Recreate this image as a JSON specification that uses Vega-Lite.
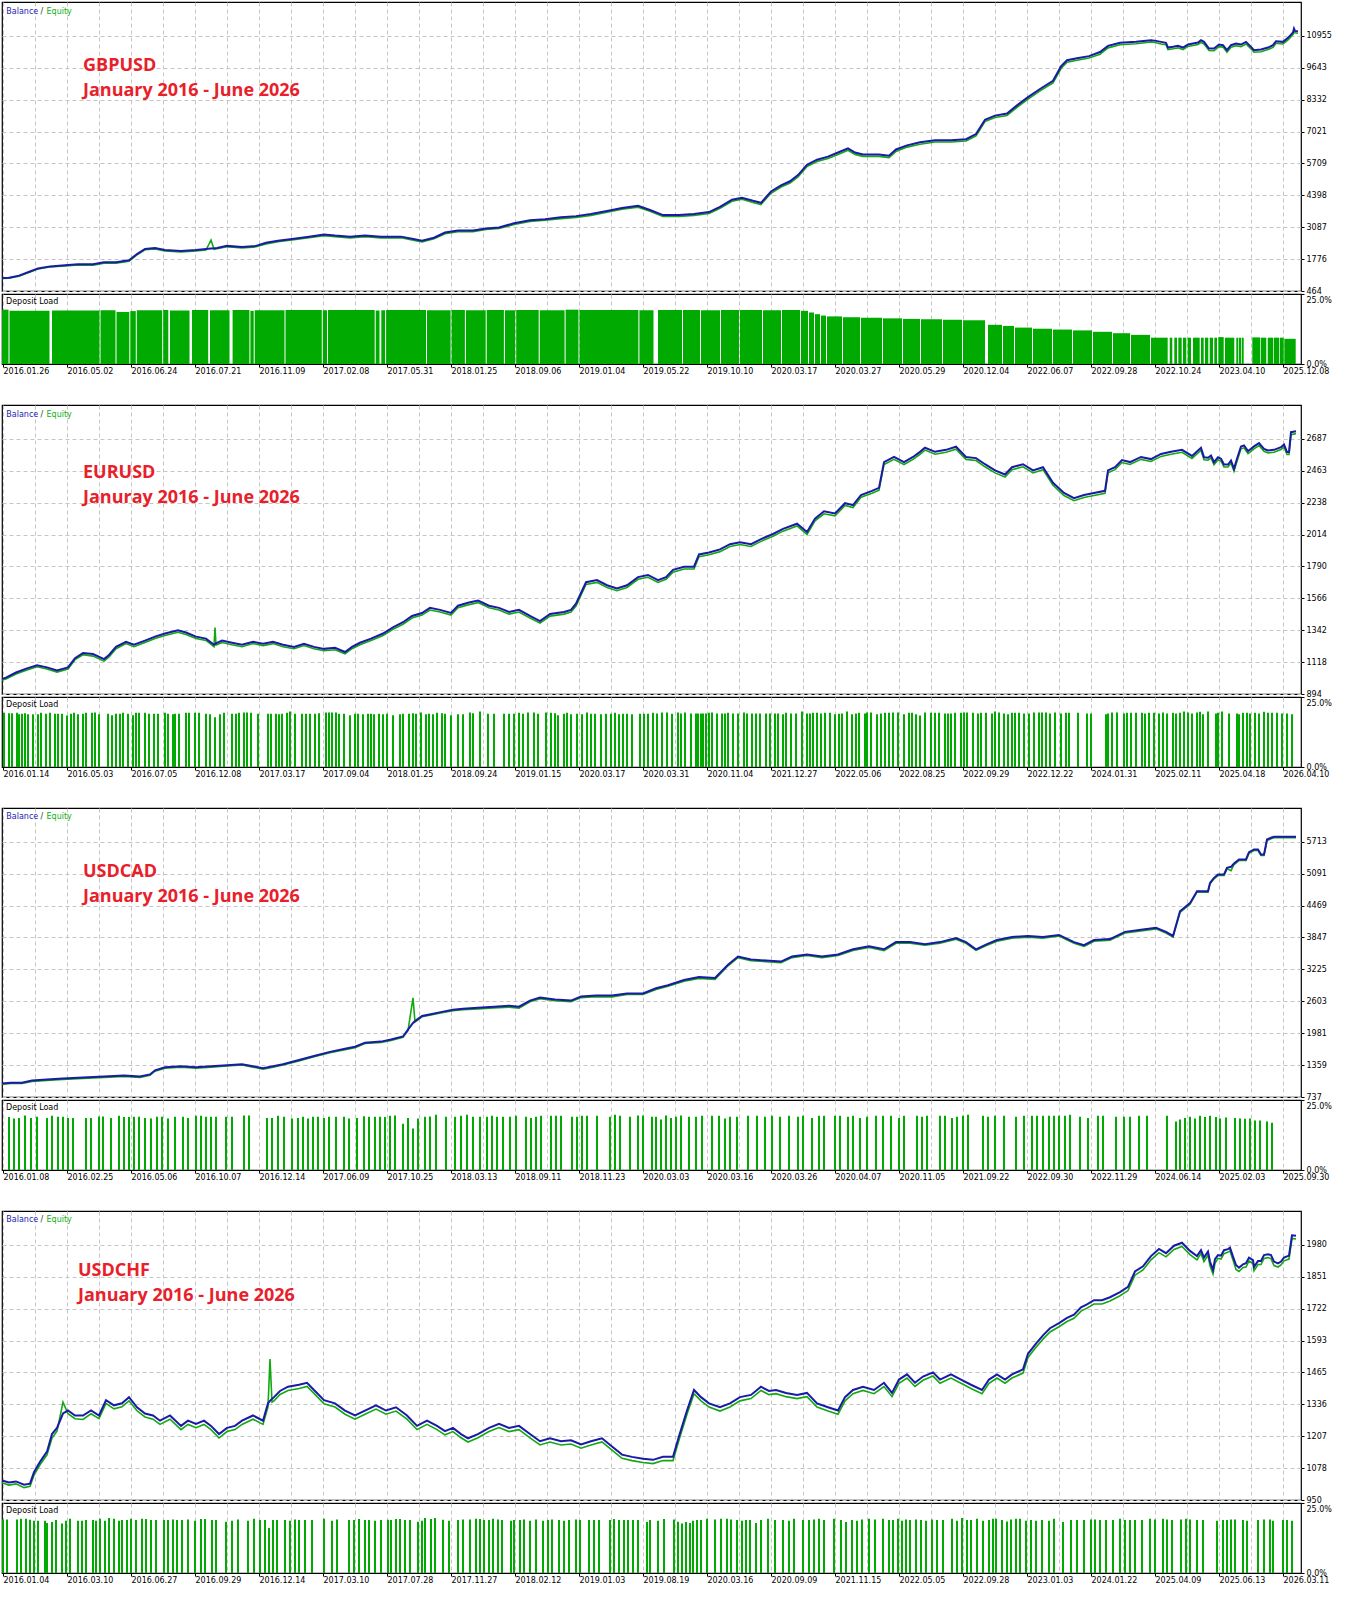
{
  "$schema": "https://vega.github.io/schema/vega-lite/v6.json",
  "padding": {"left": -3, "top": 1, "right": 4, "bottom": 4},
  "background": "#ffffff",
  "spacing": 28,
  "config": {
    "view": {"stroke": "#000000", "strokeWidth": 1.2},
    "axis": {"labelFont": "DejaVu Sans", "labelFontSize": 8, "labelColor": "#000000", "gridColor": "#c6c6c6", "gridDash": [4, 3], "gridWidth": 1, "tickColor": "#000000", "tickSize": 3, "domain": false}
  },
  "datasets": {
    "notes": [
      {"p": 1, "k": "leg", "t": "Balance", "x": 4.3, "y": 11872},
      {"p": 1, "k": "leg", "t": "/", "x": 38.5, "y": 11872},
      {"p": 1, "k": "leg", "t": "Equity", "x": 44.5, "y": 11872},
      {"p": 1, "k": "title", "t": "GBPUSD", "x": 81, "y": 9521},
      {"p": 1, "k": "title", "t": "January 2016 - June 2026", "x": 81, "y": 8493},
      {"p": 1, "k": "dep", "t": "Deposit Load", "x": 4, "y": 21.4},
      {"p": 2, "k": "leg", "t": "Balance", "x": 4.3, "y": 2843},
      {"p": 2, "k": "leg", "t": "/", "x": 38.5, "y": 2843},
      {"p": 2, "k": "leg", "t": "Equity", "x": 44.5, "y": 2843},
      {"p": 2, "k": "title", "t": "EURUSD", "x": 81, "y": 2411},
      {"p": 2, "k": "title", "t": "Januray 2016 - June 2026", "x": 81, "y": 2236},
      {"p": 2, "k": "dep", "t": "Deposit Load", "x": 4, "y": 21.4},
      {"p": 3, "k": "leg", "t": "Balance", "x": 4.3, "y": 6148},
      {"p": 3, "k": "leg", "t": "/", "x": 38.5, "y": 6148},
      {"p": 3, "k": "leg", "t": "Equity", "x": 44.5, "y": 6148},
      {"p": 3, "k": "title", "t": "USDCAD", "x": 81, "y": 5019},
      {"p": 3, "k": "title", "t": "January 2016 - June 2026", "x": 81, "y": 4531},
      {"p": 3, "k": "dep", "t": "Deposit Load", "x": 4, "y": 21.4},
      {"p": 4, "k": "leg", "t": "Balance", "x": 4.3, "y": 2070},
      {"p": 4, "k": "leg", "t": "/", "x": 38.5, "y": 2070},
      {"p": 4, "k": "leg", "t": "Equity", "x": 44.5, "y": 2070},
      {"p": 4, "k": "title", "t": "USDCHF", "x": 76, "y": 1852},
      {"p": 4, "k": "title", "t": "January 2016 - June 2026", "x": 76, "y": 1752},
      {"p": 4, "k": "dep", "t": "Deposit Load", "x": 4, "y": 21.4}
    ],
    "p1": [
      {"u":0,"b":1000,"e":985},{"u":7,"b":1012,"e":990},{"u":17,"b":1096,"e":1070},{"u":28,"b":1265,"e":1240},{"u":36,"b":1392,"e":1370},{"u":48,"b":1476,"e":1450},{"u":63,"b":1518,"e":1490},{"u":76,"b":1560,"e":1530},{"u":91,"b":1560,"e":1520},{"u":102,"b":1645,"e":1610},{"u":114,"b":1645,"e":1610},{"u":127,"b":1729,"e":1690},{"u":135,"b":1982,"e":1950},{"u":143,"b":2193,"e":2160},{"u":153,"b":2235,"e":2190},{"u":163,"b":2151,"e":2110},{"u":179,"b":2108,"e":2070},{"u":194,"b":2151,"e":2110},{"u":204,"b":2193,"e":2150},{"u":209,"b":2210,"e":2560},{"u":212,"b":2220,"e":2180},{"u":215,"b":2235,"e":2200},{"u":225,"b":2319,"e":2280},{"u":240,"b":2277,"e":2230},{"u":254,"b":2319,"e":2280},{"u":264,"b":2446,"e":2400},{"u":276,"b":2530,"e":2490},{"u":292,"b":2614,"e":2570},{"u":307,"b":2699,"e":2650},{"u":322,"b":2783,"e":2740},{"u":333,"b":2741,"e":2700},{"u":348,"b":2699,"e":2650},{"u":363,"b":2741,"e":2700},{"u":379,"b":2699,"e":2650},{"u":399,"b":2699,"e":2650},{"u":410,"b":2614,"e":2560},{"u":420,"b":2530,"e":2480},{"u":432,"b":2656,"e":2610},{"u":443,"b":2867,"e":2820},{"u":456,"b":2952,"e":2900},{"u":471,"b":2952,"e":2900},{"u":484,"b":3036,"e":2990},{"u":497,"b":3078,"e":3030},{"u":512,"b":3247,"e":3200},{"u":528,"b":3373,"e":3320},{"u":543,"b":3415,"e":3370},{"u":559,"b":3500,"e":3440},{"u":574,"b":3542,"e":3490},{"u":589,"b":3626,"e":3570},{"u":605,"b":3753,"e":3700},{"u":620,"b":3880,"e":3830},{"u":636,"b":3964,"e":3910},{"u":648,"b":3795,"e":3740},{"u":661,"b":3584,"e":3530},{"u":677,"b":3584,"e":3530},{"u":692,"b":3626,"e":3570},{"u":707,"b":3710,"e":3650},{"u":718,"b":3921,"e":3860},{"u":730,"b":4216,"e":4150},{"u":740,"b":4301,"e":4240},{"u":751,"b":4174,"e":4100},{"u":759,"b":4090,"e":4020},{"u":769,"b":4554,"e":4480},{"u":779,"b":4807,"e":4740},{"u":788,"b":4975,"e":4900},{"u":796,"b":5228,"e":5150},{"u":805,"b":5650,"e":5580},{"u":815,"b":5861,"e":5790},{"u":826,"b":5987,"e":5910},{"u":836,"b":6156,"e":6080},{"u":846,"b":6325,"e":6250},{"u":853,"b":6156,"e":6080},{"u":861,"b":6072,"e":6000},{"u":877,"b":6072,"e":6000},{"u":887,"b":6029,"e":5950},{"u":894,"b":6282,"e":6200},{"u":905,"b":6451,"e":6380},{"u":918,"b":6578,"e":6500},{"u":933,"b":6662,"e":6590},{"u":949,"b":6662,"e":6590},{"u":964,"b":6704,"e":6630},{"u":974,"b":6915,"e":6840},{"u":983,"b":7505,"e":7430},{"u":993,"b":7674,"e":7600},{"u":1005,"b":7758,"e":7680},{"u":1015,"b":8095,"e":8010},{"u":1026,"b":8432,"e":8350},{"u":1038,"b":8769,"e":8690},{"u":1051,"b":9107,"e":9020},{"u":1059,"b":9697,"e":9610},{"u":1065,"b":9950,"e":9870},{"u":1075,"b":10034,"e":9950},{"u":1087,"b":10119,"e":10040},{"u":1098,"b":10287,"e":10200},{"u":1106,"b":10540,"e":10460},{"u":1118,"b":10667,"e":10590},{"u":1134,"b":10709,"e":10630},{"u":1149,"b":10775,"e":10700},{"u":1154,"b":10747,"e":10670},{"u":1159,"b":10706,"e":10620},{"u":1164,"b":10665,"e":10590},{"u":1166,"b":10473,"e":10390},{"u":1171,"b":10501,"e":10420},{"u":1176,"b":10542,"e":10460},{"u":1181,"b":10473,"e":10390},{"u":1186,"b":10596,"e":10520},{"u":1191,"b":10637,"e":10560},{"u":1196,"b":10678,"e":10600},{"u":1199,"b":10775,"e":10690},{"u":1202,"b":10706,"e":10620},{"u":1207,"b":10432,"e":10350},{"u":1212,"b":10432,"e":10340},{"u":1217,"b":10596,"e":10510},{"u":1221,"b":10569,"e":10490},{"u":1225,"b":10364,"e":10280},{"u":1229,"b":10569,"e":10480},{"u":1234,"b":10637,"e":10550},{"u":1239,"b":10596,"e":10510},{"u":1244,"b":10706,"e":10620},{"u":1249,"b":10501,"e":10420},{"u":1252,"b":10364,"e":10280},{"u":1259,"b":10391,"e":10300},{"u":1266,"b":10473,"e":10390},{"u":1271,"b":10569,"e":10480},{"u":1274,"b":10733,"e":10650},{"u":1281,"b":10706,"e":10620},{"u":1286,"b":10870,"e":10790},{"u":1291,"b":11089,"e":11000},{"u":1292,"b":11253,"e":11170},{"u":1293,"b":11158,"e":11080},{"u":1296,"b":11144,"e":11060}
    ],
    "p2": [
      {"u":0,"b":1000,"e":992},{"u":4,"b":1009,"e":1000},{"u":14,"b":1045,"e":1035},{"u":25,"b":1074,"e":1062},{"u":35,"b":1096,"e":1085},{"u":45,"b":1081,"e":1070},{"u":55,"b":1060,"e":1048},{"u":66,"b":1081,"e":1070},{"u":73,"b":1146,"e":1135},{"u":81,"b":1182,"e":1170},{"u":91,"b":1175,"e":1160},{"u":102,"b":1139,"e":1125},{"u":107,"b":1168,"e":1155},{"u":114,"b":1225,"e":1212},{"u":124,"b":1261,"e":1248},{"u":132,"b":1240,"e":1226},{"u":143,"b":1269,"e":1256},{"u":153,"b":1297,"e":1284},{"u":163,"b":1319,"e":1305},{"u":176,"b":1341,"e":1328},{"u":184,"b":1326,"e":1312},{"u":194,"b":1297,"e":1284},{"u":204,"b":1283,"e":1270},{"u":212,"b":1240,"e":1226},{"u":213,"b":1245,"e":1360},{"u":214,"b":1250,"e":1238},{"u":220,"b":1269,"e":1256},{"u":230,"b":1254,"e":1240},{"u":240,"b":1240,"e":1226},{"u":251,"b":1261,"e":1248},{"u":261,"b":1247,"e":1234},{"u":271,"b":1261,"e":1248},{"u":281,"b":1240,"e":1226},{"u":292,"b":1225,"e":1212},{"u":302,"b":1247,"e":1234},{"u":312,"b":1225,"e":1212},{"u":322,"b":1211,"e":1198},{"u":333,"b":1218,"e":1205},{"u":343,"b":1189,"e":1176},{"u":350,"b":1225,"e":1212},{"u":358,"b":1254,"e":1240},{"u":369,"b":1283,"e":1270},{"u":381,"b":1319,"e":1305},{"u":391,"b":1362,"e":1348},{"u":401,"b":1398,"e":1384},{"u":410,"b":1442,"e":1428},{"u":420,"b":1463,"e":1448},{"u":428,"b":1499,"e":1484},{"u":438,"b":1485,"e":1470},{"u":449,"b":1463,"e":1448},{"u":456,"b":1514,"e":1500},{"u":466,"b":1535,"e":1520},{"u":476,"b":1550,"e":1536},{"u":487,"b":1514,"e":1500},{"u":497,"b":1499,"e":1484},{"u":507,"b":1470,"e":1455},{"u":517,"b":1485,"e":1470},{"u":528,"b":1442,"e":1428},{"u":538,"b":1406,"e":1392},{"u":548,"b":1456,"e":1441},{"u":562,"b":1470,"e":1455},{"u":569,"b":1485,"e":1470},{"u":574,"b":1528,"e":1512},{"u":584,"b":1679,"e":1664},{"u":595,"b":1694,"e":1678},{"u":605,"b":1658,"e":1642},{"u":615,"b":1636,"e":1620},{"u":625,"b":1658,"e":1642},{"u":636,"b":1715,"e":1700},{"u":646,"b":1730,"e":1714},{"u":656,"b":1694,"e":1678},{"u":664,"b":1715,"e":1700},{"u":671,"b":1766,"e":1750},{"u":682,"b":1788,"e":1772},{"u":692,"b":1788,"e":1772},{"u":697,"b":1874,"e":1858},{"u":707,"b":1888,"e":1872},{"u":718,"b":1910,"e":1894},{"u":728,"b":1946,"e":1930},{"u":738,"b":1960,"e":1944},{"u":749,"b":1946,"e":1930},{"u":759,"b":1982,"e":1966},{"u":771,"b":2018,"e":2002},{"u":781,"b":2054,"e":2038},{"u":795,"b":2090,"e":2074},{"u":805,"b":2032,"e":2015},{"u":813,"b":2126,"e":2110},{"u":822,"b":2177,"e":2160},{"u":833,"b":2162,"e":2145},{"u":843,"b":2234,"e":2218},{"u":851,"b":2220,"e":2204},{"u":859,"b":2292,"e":2276},{"u":870,"b":2321,"e":2304},{"u":877,"b":2342,"e":2326},{"u":882,"b":2523,"e":2506},{"u":892,"b":2559,"e":2542},{"u":902,"b":2523,"e":2506},{"u":911,"b":2559,"e":2542},{"u":918,"b":2595,"e":2578},{"u":923,"b":2624,"e":2607},{"u":933,"b":2595,"e":2578},{"u":944,"b":2609,"e":2592},{"u":954,"b":2631,"e":2614},{"u":964,"b":2559,"e":2542},{"u":974,"b":2551,"e":2534},{"u":983,"b":2508,"e":2490},{"u":993,"b":2465,"e":2447},{"u":1003,"b":2436,"e":2418},{"u":1010,"b":2487,"e":2470},{"u":1021,"b":2508,"e":2490},{"u":1031,"b":2465,"e":2447},{"u":1041,"b":2487,"e":2470},{"u":1051,"b":2378,"e":2360},{"u":1062,"b":2306,"e":2288},{"u":1072,"b":2270,"e":2252},{"u":1082,"b":2292,"e":2274},{"u":1092,"b":2306,"e":2288},{"u":1103,"b":2321,"e":2304},{"u":1106,"b":2465,"e":2448},{"u":1113,"b":2487,"e":2470},{"u":1120,"b":2537,"e":2520},{"u":1128,"b":2523,"e":2506},{"u":1139,"b":2559,"e":2542},{"u":1149,"b":2544,"e":2527},{"u":1159,"b":2580,"e":2563},{"u":1169,"b":2595,"e":2578},{"u":1180,"b":2609,"e":2592},{"u":1190,"b":2566,"e":2549},{"u":1199,"b":2623,"e":2606},{"u":1202,"b":2557,"e":2540},{"u":1206,"b":2553,"e":2536},{"u":1209,"b":2569,"e":2552},{"u":1212,"b":2522,"e":2505},{"u":1216,"b":2557,"e":2540},{"u":1219,"b":2546,"e":2529},{"u":1222,"b":2506,"e":2489},{"u":1226,"b":2506,"e":2489},{"u":1229,"b":2534,"e":2517},{"u":1232,"b":2476,"e":2459},{"u":1235,"b":2546,"e":2529},{"u":1239,"b":2633,"e":2616},{"u":1242,"b":2640,"e":2623},{"u":1246,"b":2600,"e":2583},{"u":1249,"b":2616,"e":2599},{"u":1252,"b":2633,"e":2616},{"u":1257,"b":2656,"e":2639},{"u":1262,"b":2616,"e":2599},{"u":1266,"b":2605,"e":2588},{"u":1272,"b":2609,"e":2592},{"u":1279,"b":2628,"e":2611},{"u":1282,"b":2647,"e":2630},{"u":1285,"b":2593,"e":2576},{"u":1287,"b":2593,"e":2576},{"u":1289,"b":2733,"e":2716},{"u":1294,"b":2740,"e":2723}
    ],
    "p3": [
      {"u":0,"b":1000,"e":985},{"u":9,"b":1017,"e":1000},{"u":20,"b":1017,"e":1000},{"u":30,"b":1057,"e":1040},{"u":45,"b":1077,"e":1060},{"u":61,"b":1097,"e":1080},{"u":81,"b":1117,"e":1100},{"u":102,"b":1137,"e":1120},{"u":122,"b":1157,"e":1140},{"u":138,"b":1137,"e":1120},{"u":148,"b":1177,"e":1160},{"u":153,"b":1257,"e":1240},{"u":163,"b":1317,"e":1300},{"u":179,"b":1337,"e":1320},{"u":194,"b":1317,"e":1300},{"u":209,"b":1337,"e":1320},{"u":225,"b":1357,"e":1340},{"u":240,"b":1377,"e":1360},{"u":251,"b":1337,"e":1320},{"u":261,"b":1297,"e":1280},{"u":271,"b":1337,"e":1320},{"u":281,"b":1377,"e":1360},{"u":297,"b":1457,"e":1440},{"u":312,"b":1537,"e":1520},{"u":328,"b":1617,"e":1600},{"u":343,"b":1677,"e":1660},{"u":353,"b":1717,"e":1700},{"u":363,"b":1797,"e":1780},{"u":379,"b":1817,"e":1800},{"u":389,"b":1857,"e":1840},{"u":401,"b":1917,"e":1900},{"u":406,"b":2050,"e":2030},{"u":411,"b":2180,"e":2670},{"u":413,"b":2217,"e":2200},{"u":420,"b":2317,"e":2300},{"u":430,"b":2357,"e":2340},{"u":440,"b":2397,"e":2380},{"u":451,"b":2437,"e":2420},{"u":461,"b":2457,"e":2440},{"u":476,"b":2477,"e":2455},{"u":492,"b":2497,"e":2475},{"u":507,"b":2517,"e":2490},{"u":517,"b":2497,"e":2470},{"u":528,"b":2617,"e":2595},{"u":538,"b":2677,"e":2655},{"u":553,"b":2637,"e":2615},{"u":569,"b":2617,"e":2595},{"u":579,"b":2697,"e":2675},{"u":594,"b":2717,"e":2695},{"u":610,"b":2717,"e":2690},{"u":625,"b":2757,"e":2735},{"u":641,"b":2757,"e":2735},{"u":654,"b":2857,"e":2835},{"u":666,"b":2917,"e":2895},{"u":682,"b":3017,"e":2995},{"u":697,"b":3077,"e":3050},{"u":713,"b":3057,"e":3030},{"u":726,"b":3317,"e":3295},{"u":736,"b":3477,"e":3455},{"u":749,"b":3417,"e":3395},{"u":764,"b":3397,"e":3375},{"u":779,"b":3377,"e":3355},{"u":790,"b":3477,"e":3455},{"u":805,"b":3517,"e":3495},{"u":820,"b":3477,"e":3455},{"u":836,"b":3517,"e":3495},{"u":851,"b":3617,"e":3595},{"u":867,"b":3677,"e":3655},{"u":882,"b":3617,"e":3590},{"u":894,"b":3757,"e":3735},{"u":908,"b":3757,"e":3735},{"u":923,"b":3717,"e":3695},{"u":938,"b":3757,"e":3735},{"u":954,"b":3837,"e":3815},{"u":964,"b":3757,"e":3735},{"u":974,"b":3617,"e":3595},{"u":985,"b":3717,"e":3695},{"u":995,"b":3797,"e":3775},{"u":1010,"b":3857,"e":3835},{"u":1026,"b":3877,"e":3855},{"u":1041,"b":3857,"e":3835},{"u":1057,"b":3897,"e":3875},{"u":1072,"b":3757,"e":3735},{"u":1082,"b":3697,"e":3675},{"u":1092,"b":3797,"e":3775},{"u":1108,"b":3817,"e":3795},{"u":1123,"b":3957,"e":3935},{"u":1139,"b":3997,"e":3975},{"u":1154,"b":4037,"e":4015},{"u":1164,"b":3957,"e":3935},{"u":1171,"b":3877,"e":3855},{"u":1178,"b":4357,"e":4335},{"u":1188,"b":4517,"e":4495},{"u":1195,"b":4749,"e":4730},{"u":1206,"b":4749,"e":4730},{"u":1208,"b":4913,"e":4890},{"u":1212,"b":5010,"e":4990},{"u":1216,"b":5075,"e":5055},{"u":1222,"b":5075,"e":5055},{"u":1225,"b":5205,"e":5185},{"u":1229,"b":5225,"e":5150},{"u":1232,"b":5290,"e":5270},{"u":1237,"b":5368,"e":5348},{"u":1244,"b":5368,"e":5348},{"u":1247,"b":5510,"e":5490},{"u":1252,"b":5563,"e":5543},{"u":1256,"b":5563,"e":5543},{"u":1259,"b":5465,"e":5445},{"u":1262,"b":5465,"e":5445},{"u":1265,"b":5758,"e":5738},{"u":1269,"b":5791,"e":5771},{"u":1272,"b":5811,"e":5791},{"u":1294,"b":5811,"e":5791}
    ],
    "p4": [
      {"u":0,"b":1029,"e":1020},{"u":7,"b":1021,"e":1010},{"u":14,"b":1025,"e":1015},{"u":22,"b":1012,"e":1000},{"u":28,"b":1016,"e":1005},{"u":32,"b":1062,"e":1050},{"u":38,"b":1104,"e":1092},{"u":45,"b":1145,"e":1132},{"u":50,"b":1216,"e":1200},{"u":55,"b":1241,"e":1228},{"u":61,"b":1299,"e":1345},{"u":66,"b":1311,"e":1298},{"u":73,"b":1291,"e":1278},{"u":81,"b":1291,"e":1275},{"u":89,"b":1311,"e":1298},{"u":97,"b":1291,"e":1278},{"u":104,"b":1353,"e":1340},{"u":112,"b":1332,"e":1318},{"u":120,"b":1340,"e":1326},{"u":127,"b":1365,"e":1350},{"u":135,"b":1324,"e":1310},{"u":143,"b":1299,"e":1285},{"u":151,"b":1291,"e":1276},{"u":158,"b":1270,"e":1255},{"u":168,"b":1291,"e":1276},{"u":179,"b":1249,"e":1234},{"u":186,"b":1270,"e":1255},{"u":194,"b":1257,"e":1242},{"u":202,"b":1270,"e":1255},{"u":209,"b":1249,"e":1234},{"u":217,"b":1216,"e":1200},{"u":225,"b":1241,"e":1226},{"u":233,"b":1249,"e":1234},{"u":240,"b":1270,"e":1255},{"u":251,"b":1291,"e":1276},{"u":261,"b":1270,"e":1255},{"u":266,"b":1340,"e":1326},{"u":268,"b":1350,"e":1519},{"u":270,"b":1358,"e":1345},{"u":272,"b":1365,"e":1350},{"u":278,"b":1390,"e":1376},{"u":286,"b":1407,"e":1392},{"u":297,"b":1415,"e":1400},{"u":305,"b":1423,"e":1408},{"u":312,"b":1394,"e":1380},{"u":322,"b":1353,"e":1338},{"u":333,"b":1340,"e":1325},{"u":343,"b":1311,"e":1296},{"u":353,"b":1291,"e":1276},{"u":363,"b":1311,"e":1296},{"u":374,"b":1332,"e":1317},{"u":384,"b":1311,"e":1296},{"u":394,"b":1324,"e":1309},{"u":405,"b":1291,"e":1276},{"u":415,"b":1249,"e":1234},{"u":425,"b":1270,"e":1255},{"u":435,"b":1249,"e":1234},{"u":443,"b":1228,"e":1213},{"u":451,"b":1241,"e":1226},{"u":459,"b":1216,"e":1201},{"u":466,"b":1199,"e":1184},{"u":476,"b":1216,"e":1201},{"u":487,"b":1241,"e":1226},{"u":497,"b":1257,"e":1242},{"u":507,"b":1241,"e":1226},{"u":517,"b":1249,"e":1234},{"u":528,"b":1216,"e":1201},{"u":538,"b":1187,"e":1172},{"u":548,"b":1199,"e":1184},{"u":559,"b":1187,"e":1172},{"u":569,"b":1191,"e":1176},{"u":579,"b":1174,"e":1159},{"u":589,"b":1187,"e":1172},{"u":600,"b":1199,"e":1184},{"u":610,"b":1166,"e":1151},{"u":620,"b":1133,"e":1118},{"u":630,"b":1124,"e":1109},{"u":641,"b":1116,"e":1101},{"u":651,"b":1112,"e":1097},{"u":661,"b":1124,"e":1109},{"u":671,"b":1124,"e":1109},{"u":677,"b":1207,"e":1192},{"u":685,"b":1311,"e":1296},{"u":692,"b":1394,"e":1379},{"u":699,"b":1365,"e":1350},{"u":707,"b":1340,"e":1325},{"u":718,"b":1324,"e":1309},{"u":728,"b":1340,"e":1325},{"u":738,"b":1365,"e":1350},{"u":749,"b":1374,"e":1359},{"u":759,"b":1407,"e":1392},{"u":767,"b":1390,"e":1375},{"u":774,"b":1394,"e":1379},{"u":784,"b":1382,"e":1367},{"u":795,"b":1374,"e":1359},{"u":805,"b":1382,"e":1367},{"u":815,"b":1340,"e":1325},{"u":826,"b":1324,"e":1309},{"u":836,"b":1311,"e":1296},{"u":843,"b":1365,"e":1350},{"u":851,"b":1394,"e":1379},{"u":861,"b":1407,"e":1392},{"u":872,"b":1394,"e":1379},{"u":882,"b":1423,"e":1408},{"u":890,"b":1382,"e":1367},{"u":897,"b":1436,"e":1421},{"u":905,"b":1457,"e":1442},{"u":913,"b":1423,"e":1408},{"u":921,"b":1448,"e":1433},{"u":931,"b":1465,"e":1450},{"u":938,"b":1436,"e":1421},{"u":949,"b":1457,"e":1442},{"u":959,"b":1436,"e":1421},{"u":969,"b":1415,"e":1400},{"u":980,"b":1394,"e":1379},{"u":987,"b":1436,"e":1421},{"u":995,"b":1457,"e":1442},{"u":1003,"b":1436,"e":1421},{"u":1010,"b":1457,"e":1442},{"u":1021,"b":1477,"e":1462},{"u":1026,"b":1540,"e":1525},{"u":1034,"b":1581,"e":1566},{"u":1041,"b":1614,"e":1599},{"u":1048,"b":1643,"e":1628},{"u":1057,"b":1664,"e":1649},{"u":1065,"b":1685,"e":1670},{"u":1072,"b":1698,"e":1683},{"u":1079,"b":1727,"e":1712},{"u":1085,"b":1739,"e":1724},{"u":1092,"b":1756,"e":1741},{"u":1100,"b":1756,"e":1741},{"u":1108,"b":1768,"e":1753},{"u":1118,"b":1789,"e":1774},{"u":1126,"b":1810,"e":1795},{"u":1133,"b":1872,"e":1857},{"u":1141,"b":1893,"e":1878},{"u":1149,"b":1934,"e":1919},{"u":1157,"b":1963,"e":1948},{"u":1164,"b":1946,"e":1931},{"u":1172,"b":1976,"e":1961},{"u":1180,"b":1988,"e":1973},{"u":1188,"b":1955,"e":1940},{"u":1195,"b":1934,"e":1919},{"u":1199,"b":1958,"e":1945},{"u":1202,"b":1928,"e":1912},{"u":1206,"b":1952,"e":1938},{"u":1208,"b":1912,"e":1895},{"u":1211,"b":1878,"e":1862},{"u":1213,"b":1922,"e":1905},{"u":1216,"b":1938,"e":1925},{"u":1219,"b":1936,"e":1922},{"u":1222,"b":1958,"e":1944},{"u":1226,"b":1962,"e":1950},{"u":1228,"b":1968,"e":1955},{"u":1231,"b":1932,"e":1918},{"u":1234,"b":1898,"e":1880},{"u":1237,"b":1887,"e":1872},{"u":1241,"b":1901,"e":1888},{"u":1244,"b":1905,"e":1890},{"u":1247,"b":1928,"e":1915},{"u":1251,"b":1918,"e":1904},{"u":1252,"b":1891,"e":1875},{"u":1256,"b":1914,"e":1900},{"u":1259,"b":1914,"e":1900},{"u":1262,"b":1938,"e":1925},{"u":1266,"b":1941,"e":1928},{"u":1269,"b":1938,"e":1924},{"u":1272,"b":1912,"e":1896},{"u":1276,"b":1905,"e":1890},{"u":1279,"b":1912,"e":1898},{"u":1282,"b":1928,"e":1915},{"u":1287,"b":1936,"e":1922},{"u":1290,"b":2018,"e":2005},{"u":1294,"b":2016,"e":2003}
    ],
    "d1": [
      {"x":0,"x2":6.5,"h":19.4},{"x":7.5,"x2":47.5,"h":19.0},{"x":50,"x2":97.5,"h":19.1},{"x":98.5,"x2":113.5,"h":19.2},{"x":114.5,"x2":127.3,"h":18.6},{"x":128.3,"x2":133.8,"h":18.9},{"x":134.8,"x2":160.2,"h":19.2},{"x":161.2,"x2":166.3,"h":19.3},{"x":168,"x2":187.5,"h":19.1},{"x":190,"x2":206.2,"h":19.3},{"x":208,"x2":227.5,"h":19.2},{"x":230.6,"x2":247.4,"h":19.3},{"x":248.4,"x2":251.7,"h":19.0},{"x":252.7,"x2":282.5,"h":19.2},{"x":283.5,"x2":319.8,"h":19.3},{"x":320.8,"x2":325,"h":19.2},{"x":326,"x2":372.7,"h":19.3},{"x":373.7,"x2":377.5,"h":19.1},{"x":379.3,"x2":383.1,"h":19.2},{"x":384.1,"x2":424,"h":19.3},{"x":425,"x2":448.6,"h":19.2},{"x":449.6,"x2":462.9,"h":19.3},{"x":463.9,"x2":483.7,"h":19.2},{"x":484.7,"x2":501.9,"h":19.3},{"x":502.9,"x2":513.2,"h":19.2},{"x":514.2,"x2":536.7,"h":19.3},{"x":537.7,"x2":562.6,"h":19.2},{"x":563.6,"x2":576.5,"h":19.4},{"x":577.5,"x2":636.4,"h":19.3},{"x":637.4,"x2":651.5,"h":19.2},{"x":656,"x2":680,"h":19.3},{"x":681,"x2":698,"h":19.3},{"x":699,"x2":718,"h":19.2},{"x":719,"x2":737,"h":19.3},{"x":738,"x2":760,"h":19.3},{"x":761,"x2":779,"h":19.2},{"x":780,"x2":798,"h":19.3},{"x":799,"x2":806,"h":19.0},{"x":807,"x2":812,"h":18.4},{"x":813,"x2":818,"h":17.8},{"x":819,"x2":824,"h":17.3},{"x":825,"x2":840,"h":17.0},{"x":841,"x2":858,"h":16.7},{"x":859,"x2":880,"h":16.5},{"x":881,"x2":900,"h":16.3},{"x":901,"x2":918,"h":16.1},{"x":919,"x2":940,"h":16.0},{"x":941,"x2":960,"h":15.8},{"x":961,"x2":983,"h":15.6},{"x":986,"x2":1000,"h":14.0},{"x":1001,"x2":1012,"h":13.6},{"x":1013,"x2":1030,"h":13.0},{"x":1031,"x2":1050,"h":12.6},{"x":1051,"x2":1070,"h":12.3},{"x":1071,"x2":1090,"h":12.0},{"x":1091,"x2":1110,"h":11.5},{"x":1111,"x2":1128,"h":11.0},{"x":1129,"x2":1148,"h":10.4},{"x":1149,"x2":1165.7,"h":9.4},{"x":1167.7,"x2":1170.3,"h":9.4},{"x":1172.3,"x2":1175,"h":9.4},{"x":1176.3,"x2":1179.7,"h":9.4},{"x":1181,"x2":1184.3,"h":9.4},{"x":1185.7,"x2":1189,"h":9.4},{"x":1191,"x2":1197.7,"h":9.4},{"x":1199,"x2":1201.7,"h":9.4},{"x":1203,"x2":1206.3,"h":9.4},{"x":1207.7,"x2":1211,"h":9.4},{"x":1212.3,"x2":1215,"h":9.4},{"x":1216.3,"x2":1221.7,"h":9.6},{"x":1223,"x2":1232.3,"h":9.4},{"x":1234.3,"x2":1236.3,"h":9.4},{"x":1237,"x2":1239,"h":9.4},{"x":1239.7,"x2":1241.7,"h":9.4},{"x":1250.3,"x2":1258.3,"h":9.5},{"x":1259,"x2":1264.3,"h":9.4},{"x":1265.7,"x2":1271,"h":9.4},{"x":1271.7,"x2":1277,"h":9.4},{"x":1277.7,"x2":1281.7,"h":9.4},{"x":1282.3,"x2":1293.7,"h":9.0}
    ],
    "d2": [
      {"x":2,"h":19.4},{"x":7,"h":19.2},{"x":10,"h":19.2},{"x":15,"h":19.4},{"x":17,"h":18.8},{"x":20,"h":19.0},{"x":23,"h":19.2},{"x":26,"h":18.8},{"x":31,"h":18.8},{"x":36,"h":18.8},{"x":39,"h":19.4},{"x":44,"h":19.0},{"x":48,"h":19.4},{"x":53,"h":19.0},{"x":56,"h":19.0},{"x":60,"h":19.0},{"x":65,"h":18.4},{"x":69,"h":19.0},{"x":72,"h":19.4},{"x":76,"h":18.8},{"x":81,"h":19.0},{"x":84,"h":19.4},{"x":90,"h":19.4},{"x":93,"h":19.5},{"x":97,"h":18.8},{"x":106,"h":19.0},{"x":110,"h":18.5},{"x":114,"h":19.0},{"x":118,"h":19.0},{"x":121,"h":19.4},{"x":126,"h":19.0},{"x":131,"h":18.5},{"x":134,"h":19.4},{"x":137,"h":19.4},{"x":143,"h":19.4},{"x":147,"h":19.0},{"x":152,"h":19.0},{"x":156,"h":19.0},{"x":163,"h":19.4},{"x":166,"h":19.0},{"x":171,"h":18.8},{"x":173,"h":19.0},{"x":177,"h":19.0},{"x":184,"h":19.4},{"x":187,"h":19.4},{"x":193,"h":19.4},{"x":197,"h":19.4},{"x":204,"h":19.0},{"x":208,"h":18.8},{"x":213,"h":17.8},{"x":218,"h":18.8},{"x":222,"h":19.4},{"x":230,"h":19.0},{"x":234,"h":19.0},{"x":237,"h":19.4},{"x":242,"h":19.5},{"x":245,"h":19.5},{"x":249,"h":19.4},{"x":256,"h":19.0},{"x":266,"h":19.0},{"x":269,"h":19.0},{"x":274,"h":19.0},{"x":277,"h":18.8},{"x":280,"h":19.0},{"x":285,"h":19.4},{"x":288,"h":19.8},{"x":293,"h":19.0},{"x":300,"h":19.0},{"x":304,"h":19.0},{"x":308,"h":19.0},{"x":313,"h":19.0},{"x":317,"h":19.2},{"x":324,"h":19.5},{"x":327,"h":19.5},{"x":330,"h":19.5},{"x":334,"h":19.5},{"x":337,"h":19.0},{"x":342,"h":19.0},{"x":348,"h":18.5},{"x":353,"h":19.0},{"x":356,"h":19.0},{"x":361,"h":18.8},{"x":366,"h":19.0},{"x":369,"h":19.0},{"x":372,"h":18.8},{"x":377,"h":19.0},{"x":381,"h":18.8},{"x":385,"h":19.0},{"x":391,"h":18.5},{"x":398,"h":18.8},{"x":401,"h":19.0},{"x":407,"h":19.0},{"x":411,"h":19.2},{"x":414,"h":19.0},{"x":419,"h":19.5},{"x":424,"h":18.8},{"x":427,"h":19.0},{"x":431,"h":18.8},{"x":435,"h":19.4},{"x":440,"h":19.2},{"x":443,"h":19.0},{"x":449,"h":18.5},{"x":456,"h":18.8},{"x":461,"h":18.8},{"x":468,"h":19.5},{"x":471,"h":19.2},{"x":478,"h":19.8},{"x":486,"h":19.0},{"x":492,"h":19.0},{"x":502,"h":19.0},{"x":507,"h":19.0},{"x":512,"h":19.0},{"x":517,"h":19.4},{"x":521,"h":19.0},{"x":526,"h":19.5},{"x":532,"h":19.5},{"x":536,"h":19.0},{"x":544,"h":19.5},{"x":549,"h":19.4},{"x":553,"h":19.2},{"x":556,"h":18.5},{"x":562,"h":19.0},{"x":565,"h":19.4},{"x":569,"h":18.8},{"x":575,"h":19.0},{"x":580,"h":18.8},{"x":585,"h":19.5},{"x":589,"h":19.0},{"x":593,"h":19.0},{"x":599,"h":18.8},{"x":604,"h":19.0},{"x":609,"h":19.0},{"x":613,"h":19.4},{"x":617,"h":18.8},{"x":621,"h":19.0},{"x":625,"h":19.0},{"x":630,"h":18.8},{"x":638,"h":19.0},{"x":642,"h":19.0},{"x":646,"h":19.0},{"x":651,"h":19.4},
      {"x":655,"h":19.1},{"x":660,"h":19.5},{"x":665,"h":19.5},{"x":670,"h":19.0},{"x":676,"h":19.5},{"x":679,"h":19.1},{"x":683,"h":19.5},{"x":689,"h":19.1},{"x":694,"h":19.1},{"x":696,"h":19.1},{"x":699,"h":19.1},{"x":701,"h":19.1},{"x":704,"h":19.1},{"x":707,"h":19.4},{"x":710,"h":19.5},{"x":715,"h":19.1},{"x":720,"h":19.1},{"x":723,"h":19.1},{"x":726,"h":19.4},{"x":731,"h":19.1},{"x":736,"h":19.1},{"x":742,"h":19.5},{"x":745,"h":19.1},{"x":750,"h":19.1},{"x":754,"h":19.1},{"x":758,"h":19.1},{"x":764,"h":19.1},{"x":768,"h":19.1},{"x":773,"h":19.1},{"x":776,"h":19.1},{"x":781,"h":18.8},{"x":784,"h":19.4},{"x":789,"h":19.1},{"x":794,"h":19.1},{"x":800,"h":19.8},{"x":805,"h":19.1},{"x":808,"h":19.1},{"x":811,"h":19.4},{"x":815,"h":19.4},{"x":819,"h":19.1},{"x":823,"h":19.4},{"x":828,"h":19.4},{"x":833,"h":18.8},{"x":837,"h":19.0},{"x":840,"h":19.1},{"x":845,"h":19.8},{"x":850,"h":18.8},{"x":854,"h":19.1},{"x":857,"h":19.4},{"x":863,"h":19.1},{"x":865,"h":19.5},{"x":869,"h":19.5},{"x":875,"h":18.8},{"x":879,"h":19.1},{"x":883,"h":19.4},{"x":887,"h":19.4},{"x":891,"h":19.5},{"x":896,"h":19.5},{"x":902,"h":18.8},{"x":907,"h":19.4},{"x":910,"h":19.4},{"x":914,"h":18.8},{"x":918,"h":18.4},{"x":923,"h":19.5},{"x":929,"h":19.4},{"x":933,"h":19.4},{"x":937,"h":19.4},{"x":943,"h":19.1},{"x":946,"h":19.1},{"x":949,"h":19.1},{"x":953,"h":19.4},{"x":959,"h":19.4},{"x":962,"h":19.5},{"x":965,"h":19.5},{"x":971,"h":19.4},{"x":976,"h":19.1},{"x":979,"h":19.4},{"x":984,"h":19.4},{"x":990,"h":19.1},{"x":993,"h":19.8},{"x":997,"h":19.5},{"x":1002,"h":19.1},{"x":1006,"h":18.8},{"x":1010,"h":19.4},{"x":1013,"h":19.4},{"x":1017,"h":19.4},{"x":1022,"h":19.1},{"x":1027,"h":19.1},{"x":1032,"h":19.5},{"x":1037,"h":19.5},{"x":1040,"h":19.5},{"x":1044,"h":19.5},{"x":1048,"h":19.1},{"x":1053,"h":19.5},{"x":1059,"h":19.1},{"x":1064,"h":19.4},{"x":1067,"h":19.4},{"x":1076,"h":19.4},{"x":1085,"h":19.1},{"x":1089,"h":19.1},{"x":1104,"h":18.8},{"x":1106,"h":19.1},{"x":1110,"h":19.5},{"x":1115,"h":19.5},{"x":1122,"h":19.1},{"x":1125,"h":19.4},{"x":1129,"h":19.4},{"x":1134,"h":19.4},{"x":1140,"h":19.4},{"x":1143,"h":19.1},{"x":1147,"h":19.4},{"x":1152,"h":19.4},{"x":1157,"h":19.1},{"x":1161,"h":19.5},{"x":1165,"h":19.1},{"x":1171,"h":19.4},{"x":1174,"h":19.1},{"x":1178,"h":19.4},{"x":1182,"h":19.8},{"x":1186,"h":19.5},{"x":1190,"h":19.1},{"x":1195,"h":19.5},{"x":1198,"h":19.7},{"x":1201,"h":18.8},{"x":1206,"h":19.8},{"x":1214,"h":19.1},{"x":1216,"h":19.4},{"x":1220,"h":19.8},{"x":1227,"h":19.1},{"x":1235,"h":19.1},{"x":1237,"h":18.8},{"x":1241,"h":19.4},{"x":1245,"h":19.4},{"x":1248,"h":19.1},{"x":1253,"h":19.4},{"x":1257,"h":19.1},{"x":1262,"h":19.7},{"x":1266,"h":19.4},{"x":1270,"h":19.4},{"x":1275,"h":19.4},{"x":1280,"h":19.1},{"x":1285,"h":19.1},{"x":1290,"h":18.8}
    ],
    "d3": [
      {"x":7,"h":18.9},{"x":12,"h":18.4},{"x":17,"h":18.6},{"x":23,"h":19.5},{"x":29,"h":18.6},{"x":35,"h":19.0},{"x":45,"h":18.6},{"x":50,"h":19.35},{"x":56,"h":19.0},{"x":61,"h":19.0},{"x":66,"h":18.6},{"x":71,"h":18.6},{"x":84,"h":18.6},{"x":89,"h":18.6},{"x":97,"h":19.1},{"x":101,"h":19.1},{"x":109,"h":18.6},{"x":117,"h":19.35},{"x":122,"h":18.9},{"x":127,"h":18.9},{"x":132,"h":19.0},{"x":137,"h":19.0},{"x":143,"h":18.6},{"x":149,"h":18.4},{"x":155,"h":19.0},{"x":160,"h":19.0},{"x":166,"h":18.4},{"x":173,"h":19.0},{"x":181,"h":19.0},{"x":186,"h":18.6},{"x":194,"h":19.35},{"x":199,"h":19.35},{"x":204,"h":19.0},{"x":209,"h":19.0},{"x":214,"h":19.0},{"x":224,"h":19.0},{"x":230,"h":19.0},{"x":242,"h":19.5},{"x":247,"h":19.5},{"x":265,"h":18.6},{"x":270,"h":18.6},{"x":276,"h":19.35},{"x":282,"h":19.0},{"x":290,"h":18.4},{"x":296,"h":18.6},{"x":301,"h":19.0},{"x":306,"h":18.4},{"x":311,"h":19.0},{"x":316,"h":19.0},{"x":322,"h":18.6},{"x":327,"h":19.0},{"x":334,"h":19.0},{"x":342,"h":19.0},{"x":347,"h":18.4},{"x":355,"h":18.6},{"x":362,"h":19.2},{"x":367,"h":19.0},{"x":373,"h":19.0},{"x":378,"h":19.0},{"x":383,"h":18.9},{"x":388,"h":19.35},{"x":393,"h":19.5},{"x":401,"h":16.5},{"x":406,"h":18.6},{"x":411,"h":14.8},{"x":416,"h":18.4},{"x":423,"h":19.0},{"x":428,"h":19.1},{"x":434,"h":19.7},{"x":444,"h":19.0},{"x":453,"h":19.0},{"x":459,"h":19.35},{"x":465,"h":19.7},{"x":471,"h":19.0},{"x":478,"h":19.0},{"x":485,"h":19.0},{"x":490,"h":19.35},{"x":495,"h":19.0},{"x":501,"h":19.0},{"x":508,"h":19.0},{"x":514,"h":19.35},{"x":524,"h":19.0},{"x":529,"h":18.6},{"x":534,"h":19.0},{"x":539,"h":19.35},{"x":549,"h":19.35},{"x":554,"h":19.35},{"x":559,"h":19.35},{"x":570,"h":19.0},{"x":575,"h":19.0},{"x":580,"h":19.35},{"x":585,"h":19.35},{"x":595,"h":19.35},{"x":608,"h":19.0},{"x":613,"h":19.7},{"x":618,"h":19.35},{"x":628,"h":19.0},{"x":636,"h":19.5},{"x":641,"h":19.5},{"x":650,"h":19.0},
      {"x":654,"h":19.0},{"x":659,"h":18.0},{"x":664,"h":19.5},{"x":669,"h":18.6},{"x":674,"h":19.0},{"x":679,"h":19.5},{"x":687,"h":19.0},{"x":694,"h":19.0},{"x":700,"h":19.35},{"x":710,"h":19.35},{"x":717,"h":19.35},{"x":723,"h":18.4},{"x":728,"h":19.0},{"x":735,"h":19.0},{"x":746,"h":19.35},{"x":755,"h":19.35},{"x":763,"h":19.0},{"x":770,"h":19.35},{"x":778,"h":19.0},{"x":787,"h":19.35},{"x":796,"h":19.0},{"x":801,"h":19.35},{"x":810,"h":18.6},{"x":817,"h":19.35},{"x":822,"h":19.35},{"x":833,"h":19.35},{"x":838,"h":19.35},{"x":846,"h":19.0},{"x":851,"h":19.35},{"x":858,"h":18.6},{"x":865,"h":19.0},{"x":874,"h":19.35},{"x":881,"h":19.35},{"x":889,"h":19.35},{"x":897,"h":18.6},{"x":902,"h":19.35},{"x":915,"h":19.35},{"x":920,"h":19.0},{"x":925,"h":19.35},{"x":938,"h":19.35},{"x":943,"h":19.35},{"x":950,"h":18.6},{"x":955,"h":19.0},{"x":961,"h":19.35},{"x":966,"h":19.7},{"x":981,"h":19.35},{"x":986,"h":19.0},{"x":993,"h":19.35},{"x":1002,"h":19.35},{"x":1014,"h":19.0},{"x":1022,"h":19.35},{"x":1030,"h":19.35},{"x":1035,"h":19.35},{"x":1041,"h":19.35},{"x":1047,"h":19.35},{"x":1052,"h":19.35},{"x":1057,"h":19.35},{"x":1063,"h":19.35},{"x":1068,"h":19.7},{"x":1078,"h":19.0},{"x":1086,"h":18.6},{"x":1096,"h":19.35},{"x":1101,"h":19.35},{"x":1114,"h":19.0},{"x":1122,"h":19.0},{"x":1128,"h":19.0},{"x":1137,"h":19.35},{"x":1145,"h":19.35},{"x":1165,"h":19.35},{"x":1174,"h":17.3},{"x":1178,"h":18.0},{"x":1183,"h":18.6},{"x":1188,"h":19.0},{"x":1193,"h":18.4},{"x":1198,"h":19.35},{"x":1203,"h":18.9},{"x":1208,"h":19.35},{"x":1214,"h":18.9},{"x":1218,"h":18.4},{"x":1224,"h":18.75},{"x":1233,"h":18.6},{"x":1238,"h":18.4},{"x":1243,"h":18.3},{"x":1248,"h":18.4},{"x":1253,"h":17.7},{"x":1258,"h":17.7},{"x":1265,"h":17.3},{"x":1270,"h":16.9}
    ],
    "d4": [
      {"x":1,"h":19.1},{"x":5,"h":19.1},{"x":15,"h":19.1},{"x":19,"h":19.4},{"x":24,"h":19.4},{"x":28,"h":19.0},{"x":32,"h":18.7},{"x":36,"h":18.7},{"x":43,"h":18.7},{"x":45,"h":17.9},{"x":50,"h":18.2},{"x":54,"h":18.9},{"x":60,"h":17.7},{"x":64,"h":18.7},{"x":68,"h":19.4},{"x":76,"h":18.7},{"x":80,"h":18.7},{"x":84,"h":18.9},{"x":91,"h":18.9},{"x":94,"h":18.7},{"x":98,"h":19.4},{"x":103,"h":18.7},{"x":107,"h":19.6},{"x":112,"h":19.4},{"x":117,"h":18.7},{"x":120,"h":18.9},{"x":125,"h":18.9},{"x":129,"h":19.4},{"x":134,"h":18.9},{"x":140,"h":19.4},{"x":144,"h":19.3},{"x":149,"h":18.9},{"x":154,"h":18.9},{"x":162,"h":18.9},{"x":166,"h":18.9},{"x":171,"h":19.1},{"x":175,"h":18.9},{"x":180,"h":18.9},{"x":186,"h":19.1},{"x":193,"h":18.7},{"x":199,"h":19.3},{"x":203,"h":19.3},{"x":210,"h":18.9},{"x":214,"h":18.9},{"x":224,"h":18.3},{"x":230,"h":18.7},{"x":236,"h":19.1},{"x":246,"h":18.7},{"x":252,"h":19.4},{"x":258,"h":18.9},{"x":263,"h":18.9},{"x":267,"h":16.1},{"x":271,"h":18.9},{"x":275,"h":18.9},{"x":283,"h":18.9},{"x":288,"h":18.7},{"x":293,"h":19.1},{"x":297,"h":18.9},{"x":303,"h":18.9},{"x":310,"h":18.9},{"x":322,"h":19.4},{"x":330,"h":18.7},{"x":335,"h":19.1},{"x":347,"h":18.9},{"x":352,"h":18.9},{"x":357,"h":19.3},{"x":363,"h":18.9},{"x":367,"h":18.9},{"x":373,"h":18.7},{"x":379,"h":18.9},{"x":386,"h":19.0},{"x":389,"h":18.9},{"x":394,"h":19.3},{"x":398,"h":19.3},{"x":403,"h":18.9},{"x":408,"h":18.9},{"x":416,"h":18.3},{"x":420,"h":18.7},{"x":423,"h":19.6},{"x":429,"h":19.3},{"x":433,"h":19.6},{"x":441,"h":19.0},{"x":447,"h":18.7},{"x":456,"h":18.9},{"x":461,"h":19.1},{"x":468,"h":19.1},{"x":474,"h":19.4},{"x":478,"h":19.3},{"x":482,"h":18.9},{"x":487,"h":18.9},{"x":491,"h":19.4},{"x":496,"h":19.1},{"x":500,"h":18.9},{"x":509,"h":18.7},{"x":512,"h":18.9},{"x":518,"h":18.9},{"x":522,"h":19.1},{"x":528,"h":18.7},{"x":534,"h":19.1},{"x":541,"h":18.7},{"x":546,"h":18.9},{"x":550,"h":19.1},{"x":557,"h":18.9},{"x":562,"h":18.7},{"x":567,"h":18.9},{"x":574,"h":19.1},{"x":578,"h":18.9},{"x":587,"h":18.9},{"x":592,"h":18.9},{"x":597,"h":18.9},{"x":608,"h":18.9},{"x":612,"h":19.3},{"x":617,"h":18.9},{"x":622,"h":18.9},{"x":626,"h":18.9},{"x":631,"h":18.9},{"x":636,"h":18.9},{"x":645,"h":18.2},{"x":648,"h":18.9},{"x":656,"h":18.7},
      {"x":662,"h":19.3},{"x":672,"h":19.1},{"x":676,"h":18.3},{"x":680,"h":17.7},{"x":684,"h":18.2},{"x":688,"h":17.9},{"x":691,"h":18.7},{"x":695,"h":18.9},{"x":699,"h":18.9},{"x":705,"h":19.4},{"x":713,"h":19.1},{"x":719,"h":19.4},{"x":725,"h":19.4},{"x":729,"h":19.1},{"x":735,"h":18.9},{"x":740,"h":18.7},{"x":744,"h":18.9},{"x":748,"h":18.9},{"x":754,"h":17.9},{"x":759,"h":18.9},{"x":766,"h":19.4},{"x":773,"h":18.9},{"x":781,"h":18.9},{"x":787,"h":18.7},{"x":792,"h":19.4},{"x":801,"h":18.9},{"x":807,"h":18.9},{"x":812,"h":19.1},{"x":817,"h":19.4},{"x":822,"h":18.9},{"x":832,"h":19.4},{"x":839,"h":18.9},{"x":844,"h":18.2},{"x":850,"h":18.9},{"x":855,"h":18.7},{"x":860,"h":19.1},{"x":867,"h":19.4},{"x":873,"h":19.1},{"x":881,"h":19.4},{"x":887,"h":18.9},{"x":891,"h":18.9},{"x":896,"h":19.4},{"x":900,"h":18.7},{"x":904,"h":19.1},{"x":908,"h":18.9},{"x":914,"h":19.1},{"x":919,"h":18.9},{"x":924,"h":18.7},{"x":930,"h":19.1},{"x":935,"h":18.9},{"x":941,"h":18.9},{"x":950,"h":19.4},{"x":955,"h":18.7},{"x":960,"h":19.6},{"x":965,"h":18.9},{"x":969,"h":18.9},{"x":975,"h":19.4},{"x":981,"h":18.7},{"x":987,"h":18.9},{"x":991,"h":19.4},{"x":994,"h":19.4},{"x":1000,"h":18.9},{"x":1005,"h":18.4},{"x":1009,"h":19.1},{"x":1014,"h":19.4},{"x":1018,"h":19.4},{"x":1024,"h":18.7},{"x":1029,"h":18.9},{"x":1034,"h":18.7},{"x":1040,"h":18.9},{"x":1047,"h":18.7},{"x":1052,"h":19.4},{"x":1061,"h":18.2},{"x":1069,"h":18.9},{"x":1075,"h":18.9},{"x":1082,"h":18.9},{"x":1089,"h":19.1},{"x":1093,"h":19.1},{"x":1098,"h":18.9},{"x":1104,"h":18.9},{"x":1111,"h":18.9},{"x":1118,"h":19.4},{"x":1123,"h":18.9},{"x":1128,"h":18.9},{"x":1133,"h":18.9},{"x":1140,"h":18.9},{"x":1148,"h":19.4},{"x":1153,"h":19.1},{"x":1161,"h":19.4},{"x":1165,"h":19.1},{"x":1170,"h":18.9},{"x":1179,"h":19.1},{"x":1184,"h":19.4},{"x":1188,"h":19.1},{"x":1195,"h":18.9},{"x":1201,"h":18.9},{"x":1215,"h":18.7},{"x":1221,"h":18.9},{"x":1225,"h":18.9},{"x":1229,"h":19.1},{"x":1233,"h":19.1},{"x":1241,"h":18.9},{"x":1245,"h":18.7},{"x":1256,"h":18.9},{"x":1262,"h":19.1},{"x":1268,"h":19.1},{"x":1271,"h":18.7},{"x":1281,"h":18.9},{"x":1285,"h":18.9},{"x":1290,"h":18.7}
    ]
  },
  "vconcat": [
    {
      "bounds": "flush",
      "spacing": 3,
      "vconcat": [
        {
          "width": 1299,
          "height": 289,
          "layer": [
            {
              "data": {"name": "p1"},
              "mark": {"type": "line", "color": "#12a812", "strokeWidth": 1.6},
              "encoding": {
                "x": {"field": "u", "type": "quantitative", "scale": {"domain": [0, 1299], "nice": false, "zero": false, "padding": 0}, "axis": {"title": null, "tickCount": 60, "values": [1,33,65,97,129,161,193,225,257,289,321,353,385,417,449,481,513,545,577,609,641,673,705,737,769,801,833,865,897,929,961,993,1025,1057,1089,1121,1153,1185,1217,1249,1281], "labels": false, "ticks": false, "grid": true}},
                "y": {"field": "e", "type": "quantitative", "scale": {"domain": [464, 12345], "nice": false, "zero": false}, "axis": {"title": null, "tickCount": 30, "orient": "right", "values": [464,1776,3087,4398,5709,7021,8332,9643,10955], "grid": true, "labelPadding": 2, "labelFlush": false, "labelOverlap": false, "labelBound": false, "format": "d"}}
              }
            },
            {
              "data": {"name": "p1"},
              "mark": {"type": "line", "color": "#1a1aa6", "strokeWidth": 2},
              "encoding": {
                "x": {"field": "u", "type": "quantitative", "title": null, "scale": {"domain": [0, 1299], "nice": false, "zero": false, "padding": 0}},
                "y": {"field": "b", "type": "quantitative", "title": null, "scale": {"domain": [464, 12345], "nice": false, "zero": false}}
              }
            },
            {
              "data": {"name": "notes"},
              "transform": [{"filter": "datum.p == 1 && datum.k == 'leg'"}],
              "mark": {"type": "text", "align": "left", "baseline": "alphabetic", "font": "DejaVu Sans", "fontSize": 8},
              "encoding": {
                "x": {"field": "x", "type": "quantitative", "title": null, "scale": {"domain": [0, 1299], "nice": false, "zero": false, "padding": 0}},
                "y": {"field": "y", "type": "quantitative", "title": null, "scale": {"domain": [464, 12345], "nice": false, "zero": false}},
                "text": {"field": "t"},
                "color": {"field": "t", "type": "nominal", "scale": {"domain": ["Balance", "/", "Equity"], "range": ["#1c1cb4", "#333333", "#10b010"]}, "legend": null}
              }
            },
            {
              "data": {"name": "notes"},
              "transform": [{"filter": "datum.p == 1 && datum.k == 'title'"}],
              "mark": {"type": "text", "align": "left", "baseline": "alphabetic", "font": "Open Sans", "fontSize": 18, "fontWeight": "bold", "color": "#e8202a"},
              "encoding": {
                "x": {"field": "x", "type": "quantitative", "title": null, "scale": {"domain": [0, 1299], "nice": false, "zero": false, "padding": 0}},
                "y": {"field": "y", "type": "quantitative", "title": null, "scale": {"domain": [464, 12345], "nice": false, "zero": false}},
                "text": {"field": "t"}
              }
            }
          ]
        },
        {
          "width": 1299,
          "height": 70,
          "layer": [
            {
              "data": {"name": "d1"},
              "mark": {"type": "rect", "color": "#00aa00"},
              "encoding": {
                "x": {"field": "x", "type": "quantitative", "scale": {"domain": [0, 1299], "nice": false, "zero": false, "padding": 0}, "axis": {"title": null, "tickCount": 60, "values": [1,33,65,97,129,161,193,225,257,289,321,353,385,417,449,481,513,545,577,609,641,673,705,737,769,801,833,865,897,929,961,993,1025,1057,1089,1121,1153,1185,1217,1249,1281], "grid": true, "labelAlign": "left", "labelFlush": false, "labelOverlap": false, "labelBound": false, "labelPadding": 0, "tickColor": {"condition": {"test": "((datum.value - 1) / 32) % 2 == 1", "value": "transparent"}, "value": "#000000"}, "labelExpr": "((datum.value - 1) / 32) % 2 == 0 ? ['2016.01.26','2016.05.02','2016.06.24','2016.07.21','2016.11.09','2017.02.08','2017.05.31','2018.01.25','2018.09.06','2019.01.04','2019.05.22','2019.10.10','2020.03.17','2020.03.27','2020.05.29','2020.12.04','2022.06.07','2022.09.28','2022.10.24','2023.04.10','2025.12.08'][(datum.value - 1) / 64] : ''"}},
                "x2": {"field": "x2"},
                "y": {"field": "h", "type": "quantitative", "scale": {"domain": [0, 25], "nice": false, "zero": true, "padding": 0}, "axis": {"title": null, "orient": "right", "values": [0, 25], "grid": false, "labelPadding": 2, "labelFlush": false, "labelOverlap": false, "labelBound": false, "labelExpr": "format(datum.value, '.1f') + '%'", "labelBaseline": {"condition": {"test": "datum.value == 25", "value": "top"}, "value": "middle"}, "labelOffset": {"condition": {"test": "datum.value == 25", "value": 2}, "value": 0}}},
                "y2": {"datum": 0}
              }
            },
            {
              "data": {"name": "notes"},
              "transform": [{"filter": "datum.p == 1 && datum.k == 'dep'"}],
              "mark": {"type": "text", "align": "left", "baseline": "alphabetic", "font": "DejaVu Sans", "fontSize": 8, "color": "#000000"},
              "encoding": {
                "x": {"field": "x", "type": "quantitative", "title": null, "scale": {"domain": [0, 1299], "nice": false, "zero": false, "padding": 0}},
                "y": {"field": "y", "type": "quantitative", "title": null, "scale": {"domain": [0, 25], "nice": false, "zero": true, "padding": 0}},
                "text": {"field": "t"}
              }
            }
          ]
        }
      ]
    },
    {
      "bounds": "flush",
      "spacing": 3,
      "vconcat": [
        {
          "width": 1299,
          "height": 289,
          "layer": [
            {
              "data": {"name": "p2"},
              "mark": {"type": "line", "color": "#12a812", "strokeWidth": 1.6},
              "encoding": {
                "x": {"field": "u", "type": "quantitative", "scale": {"domain": [0, 1299], "nice": false, "zero": false, "padding": 0}, "axis": {"title": null, "tickCount": 60, "values": [1,33,65,97,129,161,193,225,257,289,321,353,385,417,449,481,513,545,577,609,641,673,705,737,769,801,833,865,897,929,961,993,1025,1057,1089,1121,1153,1185,1217,1249,1281], "labels": false, "ticks": false, "grid": true}},
                "y": {"field": "e", "type": "quantitative", "scale": {"domain": [894, 2924], "nice": false, "zero": false}, "axis": {"title": null, "tickCount": 30, "orient": "right", "values": [894,1118,1342,1566,1790,2014,2238,2463,2687], "grid": true, "labelPadding": 2, "labelFlush": false, "labelOverlap": false, "labelBound": false, "format": "d"}}
              }
            },
            {
              "data": {"name": "p2"},
              "mark": {"type": "line", "color": "#1a1aa6", "strokeWidth": 2},
              "encoding": {
                "x": {"field": "u", "type": "quantitative", "title": null, "scale": {"domain": [0, 1299], "nice": false, "zero": false, "padding": 0}},
                "y": {"field": "b", "type": "quantitative", "title": null, "scale": {"domain": [894, 2924], "nice": false, "zero": false}}
              }
            },
            {
              "data": {"name": "notes"},
              "transform": [{"filter": "datum.p == 2 && datum.k == 'leg'"}],
              "mark": {"type": "text", "align": "left", "baseline": "alphabetic", "font": "DejaVu Sans", "fontSize": 8},
              "encoding": {
                "x": {"field": "x", "type": "quantitative", "title": null, "scale": {"domain": [0, 1299], "nice": false, "zero": false, "padding": 0}},
                "y": {"field": "y", "type": "quantitative", "title": null, "scale": {"domain": [894, 2924], "nice": false, "zero": false}},
                "text": {"field": "t"},
                "color": {"field": "t", "type": "nominal", "scale": {"domain": ["Balance", "/", "Equity"], "range": ["#1c1cb4", "#333333", "#10b010"]}, "legend": null}
              }
            },
            {
              "data": {"name": "notes"},
              "transform": [{"filter": "datum.p == 2 && datum.k == 'title'"}],
              "mark": {"type": "text", "align": "left", "baseline": "alphabetic", "font": "Open Sans", "fontSize": 18, "fontWeight": "bold", "color": "#e8202a"},
              "encoding": {
                "x": {"field": "x", "type": "quantitative", "title": null, "scale": {"domain": [0, 1299], "nice": false, "zero": false, "padding": 0}},
                "y": {"field": "y", "type": "quantitative", "title": null, "scale": {"domain": [894, 2924], "nice": false, "zero": false}},
                "text": {"field": "t"}
              }
            }
          ]
        },
        {
          "width": 1299,
          "height": 70,
          "layer": [
            {
              "data": {"name": "d2"},
              "mark": {"type": "bar", "color": "#00aa00", "width": 2, "orient": "vertical"},
              "encoding": {
                "x": {"field": "x", "type": "quantitative", "scale": {"domain": [0, 1299], "nice": false, "zero": false, "padding": 0}, "axis": {"title": null, "tickCount": 60, "values": [1,33,65,97,129,161,193,225,257,289,321,353,385,417,449,481,513,545,577,609,641,673,705,737,769,801,833,865,897,929,961,993,1025,1057,1089,1121,1153,1185,1217,1249,1281], "grid": true, "labelAlign": "left", "labelFlush": false, "labelOverlap": false, "labelBound": false, "labelPadding": 0, "tickColor": {"condition": {"test": "((datum.value - 1) / 32) % 2 == 1", "value": "transparent"}, "value": "#000000"}, "labelExpr": "((datum.value - 1) / 32) % 2 == 0 ? ['2016.01.14','2016.05.03','2016.07.05','2016.12.08','2017.03.17','2017.09.04','2018.01.25','2018.09.24','2019.01.15','2020.03.17','2020.03.31','2020.11.04','2021.12.27','2022.05.06','2022.08.25','2022.09.29','2022.12.22','2024.01.31','2025.02.11','2025.04.18','2026.04.10'][(datum.value - 1) / 64] : ''"}},
                "y": {"field": "h", "type": "quantitative", "scale": {"domain": [0, 25], "nice": false, "zero": true, "padding": 0}, "axis": {"title": null, "orient": "right", "values": [0, 25], "grid": false, "labelPadding": 2, "labelFlush": false, "labelOverlap": false, "labelBound": false, "labelExpr": "format(datum.value, '.1f') + '%'", "labelBaseline": {"condition": {"test": "datum.value == 25", "value": "top"}, "value": "middle"}, "labelOffset": {"condition": {"test": "datum.value == 25", "value": 2}, "value": 0}}}
              }
            },
            {
              "data": {"name": "notes"},
              "transform": [{"filter": "datum.p == 2 && datum.k == 'dep'"}],
              "mark": {"type": "text", "align": "left", "baseline": "alphabetic", "font": "DejaVu Sans", "fontSize": 8, "color": "#000000"},
              "encoding": {
                "x": {"field": "x", "type": "quantitative", "title": null, "scale": {"domain": [0, 1299], "nice": false, "zero": false, "padding": 0}},
                "y": {"field": "y", "type": "quantitative", "title": null, "scale": {"domain": [0, 25], "nice": false, "zero": true, "padding": 0}},
                "text": {"field": "t"}
              }
            }
          ]
        }
      ]
    },
    {
      "bounds": "flush",
      "spacing": 3,
      "vconcat": [
        {
          "width": 1299,
          "height": 289,
          "layer": [
            {
              "data": {"name": "p3"},
              "mark": {"type": "line", "color": "#12a812", "strokeWidth": 1.6},
              "encoding": {
                "x": {"field": "u", "type": "quantitative", "scale": {"domain": [0, 1299], "nice": false, "zero": false, "padding": 0}, "axis": {"title": null, "tickCount": 60, "values": [1,33,65,97,129,161,193,225,257,289,321,353,385,417,449,481,513,545,577,609,641,673,705,737,769,801,833,865,897,929,961,993,1025,1057,1089,1121,1153,1185,1217,1249,1281], "labels": false, "ticks": false, "grid": true}},
                "y": {"field": "e", "type": "quantitative", "scale": {"domain": [737, 6372], "nice": false, "zero": false}, "axis": {"title": null, "tickCount": 30, "orient": "right", "values": [737,1359,1981,2603,3225,3847,4469,5091,5713], "grid": true, "labelPadding": 2, "labelFlush": false, "labelOverlap": false, "labelBound": false, "format": "d"}}
              }
            },
            {
              "data": {"name": "p3"},
              "mark": {"type": "line", "color": "#1a1aa6", "strokeWidth": 2},
              "encoding": {
                "x": {"field": "u", "type": "quantitative", "title": null, "scale": {"domain": [0, 1299], "nice": false, "zero": false, "padding": 0}},
                "y": {"field": "b", "type": "quantitative", "title": null, "scale": {"domain": [737, 6372], "nice": false, "zero": false}}
              }
            },
            {
              "data": {"name": "notes"},
              "transform": [{"filter": "datum.p == 3 && datum.k == 'leg'"}],
              "mark": {"type": "text", "align": "left", "baseline": "alphabetic", "font": "DejaVu Sans", "fontSize": 8},
              "encoding": {
                "x": {"field": "x", "type": "quantitative", "title": null, "scale": {"domain": [0, 1299], "nice": false, "zero": false, "padding": 0}},
                "y": {"field": "y", "type": "quantitative", "title": null, "scale": {"domain": [737, 6372], "nice": false, "zero": false}},
                "text": {"field": "t"},
                "color": {"field": "t", "type": "nominal", "scale": {"domain": ["Balance", "/", "Equity"], "range": ["#1c1cb4", "#333333", "#10b010"]}, "legend": null}
              }
            },
            {
              "data": {"name": "notes"},
              "transform": [{"filter": "datum.p == 3 && datum.k == 'title'"}],
              "mark": {"type": "text", "align": "left", "baseline": "alphabetic", "font": "Open Sans", "fontSize": 18, "fontWeight": "bold", "color": "#e8202a"},
              "encoding": {
                "x": {"field": "x", "type": "quantitative", "title": null, "scale": {"domain": [0, 1299], "nice": false, "zero": false, "padding": 0}},
                "y": {"field": "y", "type": "quantitative", "title": null, "scale": {"domain": [737, 6372], "nice": false, "zero": false}},
                "text": {"field": "t"}
              }
            }
          ]
        },
        {
          "width": 1299,
          "height": 70,
          "layer": [
            {
              "data": {"name": "d3"},
              "mark": {"type": "bar", "color": "#00aa00", "width": 2, "orient": "vertical"},
              "encoding": {
                "x": {"field": "x", "type": "quantitative", "scale": {"domain": [0, 1299], "nice": false, "zero": false, "padding": 0}, "axis": {"title": null, "tickCount": 60, "values": [1,33,65,97,129,161,193,225,257,289,321,353,385,417,449,481,513,545,577,609,641,673,705,737,769,801,833,865,897,929,961,993,1025,1057,1089,1121,1153,1185,1217,1249,1281], "grid": true, "labelAlign": "left", "labelFlush": false, "labelOverlap": false, "labelBound": false, "labelPadding": 0, "tickColor": {"condition": {"test": "((datum.value - 1) / 32) % 2 == 1", "value": "transparent"}, "value": "#000000"}, "labelExpr": "((datum.value - 1) / 32) % 2 == 0 ? ['2016.01.08','2016.02.25','2016.05.06','2016.10.07','2016.12.14','2017.06.09','2017.10.25','2018.03.13','2018.09.11','2018.11.23','2020.03.03','2020.03.16','2020.03.26','2020.04.07','2020.11.05','2021.09.22','2022.09.30','2022.11.29','2024.06.14','2025.02.03','2025.09.30'][(datum.value - 1) / 64] : ''"}},
                "y": {"field": "h", "type": "quantitative", "scale": {"domain": [0, 25], "nice": false, "zero": true, "padding": 0}, "axis": {"title": null, "orient": "right", "values": [0, 25], "grid": false, "labelPadding": 2, "labelFlush": false, "labelOverlap": false, "labelBound": false, "labelExpr": "format(datum.value, '.1f') + '%'", "labelBaseline": {"condition": {"test": "datum.value == 25", "value": "top"}, "value": "middle"}, "labelOffset": {"condition": {"test": "datum.value == 25", "value": 2}, "value": 0}}}
              }
            },
            {
              "data": {"name": "notes"},
              "transform": [{"filter": "datum.p == 3 && datum.k == 'dep'"}],
              "mark": {"type": "text", "align": "left", "baseline": "alphabetic", "font": "DejaVu Sans", "fontSize": 8, "color": "#000000"},
              "encoding": {
                "x": {"field": "x", "type": "quantitative", "title": null, "scale": {"domain": [0, 1299], "nice": false, "zero": false, "padding": 0}},
                "y": {"field": "y", "type": "quantitative", "title": null, "scale": {"domain": [0, 25], "nice": false, "zero": true, "padding": 0}},
                "text": {"field": "t"}
              }
            }
          ]
        }
      ]
    },
    {
      "bounds": "flush",
      "spacing": 3,
      "vconcat": [
        {
          "width": 1299,
          "height": 289,
          "layer": [
            {
              "data": {"name": "p4"},
              "mark": {"type": "line", "color": "#12a812", "strokeWidth": 1.6},
              "encoding": {
                "x": {"field": "u", "type": "quantitative", "scale": {"domain": [0, 1299], "nice": false, "zero": false, "padding": 0}, "axis": {"title": null, "tickCount": 60, "values": [1,33,65,97,129,161,193,225,257,289,321,353,385,417,449,481,513,545,577,609,641,673,705,737,769,801,833,865,897,929,961,993,1025,1057,1089,1121,1153,1185,1217,1249,1281], "labels": false, "ticks": false, "grid": true}},
                "y": {"field": "e", "type": "quantitative", "scale": {"domain": [950, 2116], "nice": false, "zero": false}, "axis": {"title": null, "tickCount": 30, "orient": "right", "values": [950,1078,1207,1336,1465,1593,1722,1851,1980], "grid": true, "labelPadding": 2, "labelFlush": false, "labelOverlap": false, "labelBound": false, "format": "d"}}
              }
            },
            {
              "data": {"name": "p4"},
              "mark": {"type": "line", "color": "#1a1aa6", "strokeWidth": 2},
              "encoding": {
                "x": {"field": "u", "type": "quantitative", "title": null, "scale": {"domain": [0, 1299], "nice": false, "zero": false, "padding": 0}},
                "y": {"field": "b", "type": "quantitative", "title": null, "scale": {"domain": [950, 2116], "nice": false, "zero": false}}
              }
            },
            {
              "data": {"name": "notes"},
              "transform": [{"filter": "datum.p == 4 && datum.k == 'leg'"}],
              "mark": {"type": "text", "align": "left", "baseline": "alphabetic", "font": "DejaVu Sans", "fontSize": 8},
              "encoding": {
                "x": {"field": "x", "type": "quantitative", "title": null, "scale": {"domain": [0, 1299], "nice": false, "zero": false, "padding": 0}},
                "y": {"field": "y", "type": "quantitative", "title": null, "scale": {"domain": [950, 2116], "nice": false, "zero": false}},
                "text": {"field": "t"},
                "color": {"field": "t", "type": "nominal", "scale": {"domain": ["Balance", "/", "Equity"], "range": ["#1c1cb4", "#333333", "#10b010"]}, "legend": null}
              }
            },
            {
              "data": {"name": "notes"},
              "transform": [{"filter": "datum.p == 4 && datum.k == 'title'"}],
              "mark": {"type": "text", "align": "left", "baseline": "alphabetic", "font": "Open Sans", "fontSize": 18, "fontWeight": "bold", "color": "#e8202a"},
              "encoding": {
                "x": {"field": "x", "type": "quantitative", "title": null, "scale": {"domain": [0, 1299], "nice": false, "zero": false, "padding": 0}},
                "y": {"field": "y", "type": "quantitative", "title": null, "scale": {"domain": [950, 2116], "nice": false, "zero": false}},
                "text": {"field": "t"}
              }
            }
          ]
        },
        {
          "width": 1299,
          "height": 70,
          "layer": [
            {
              "data": {"name": "d4"},
              "mark": {"type": "bar", "color": "#00aa00", "width": 2, "orient": "vertical"},
              "encoding": {
                "x": {"field": "x", "type": "quantitative", "scale": {"domain": [0, 1299], "nice": false, "zero": false, "padding": 0}, "axis": {"title": null, "tickCount": 60, "values": [1,33,65,97,129,161,193,225,257,289,321,353,385,417,449,481,513,545,577,609,641,673,705,737,769,801,833,865,897,929,961,993,1025,1057,1089,1121,1153,1185,1217,1249,1281], "grid": true, "labelAlign": "left", "labelFlush": false, "labelOverlap": false, "labelBound": false, "labelPadding": 0, "tickColor": {"condition": {"test": "((datum.value - 1) / 32) % 2 == 1", "value": "transparent"}, "value": "#000000"}, "labelExpr": "((datum.value - 1) / 32) % 2 == 0 ? ['2016.01.04','2016.03.10','2016.06.27','2016.09.29','2016.12.14','2017.03.10','2017.07.28','2017.11.27','2018.02.12','2019.01.03','2019.08.19','2020.03.16','2020.09.09','2021.11.15','2022.05.05','2022.09.28','2023.01.03','2024.01.22','2025.04.09','2025.06.13','2026.03.11'][(datum.value - 1) / 64] : ''"}},
                "y": {"field": "h", "type": "quantitative", "scale": {"domain": [0, 25], "nice": false, "zero": true, "padding": 0}, "axis": {"title": null, "orient": "right", "values": [0, 25], "grid": false, "labelPadding": 2, "labelFlush": false, "labelOverlap": false, "labelBound": false, "labelExpr": "format(datum.value, '.1f') + '%'", "labelBaseline": {"condition": {"test": "datum.value == 25", "value": "top"}, "value": "middle"}, "labelOffset": {"condition": {"test": "datum.value == 25", "value": 2}, "value": 0}}}
              }
            },
            {
              "data": {"name": "notes"},
              "transform": [{"filter": "datum.p == 4 && datum.k == 'dep'"}],
              "mark": {"type": "text", "align": "left", "baseline": "alphabetic", "font": "DejaVu Sans", "fontSize": 8, "color": "#000000"},
              "encoding": {
                "x": {"field": "x", "type": "quantitative", "title": null, "scale": {"domain": [0, 1299], "nice": false, "zero": false, "padding": 0}},
                "y": {"field": "y", "type": "quantitative", "title": null, "scale": {"domain": [0, 25], "nice": false, "zero": true, "padding": 0}},
                "text": {"field": "t"}
              }
            }
          ]
        }
      ]
    }
  ]
}
